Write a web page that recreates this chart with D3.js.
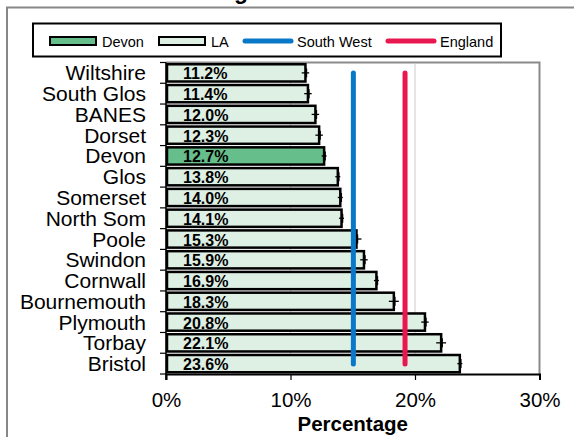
<!DOCTYPE html>
<html><head><meta charset="utf-8">
<script src="https://cdn.jsdelivr.net/npm/d3@7"></script>
<style>body{margin:0;background:#fff}svg{display:block;font-family:Arial,"Liberation Sans",sans-serif}</style>
</head><body>
<svg id="c" width="574" height="437"></svg>
<script>
const categories = ["Wiltshire","South Glos","BANES","Dorset","Devon","Glos","Somerset","North Som","Poole","Swindon","Cornwall","Bournemouth","Plymouth","Torbay","Bristol"];
const values = [11.2,11.4,12.0,12.3,12.7,13.8,14.0,14.1,15.3,15.9,16.9,18.3,20.8,22.1,23.6];
const ciLower = [10.9,11.1,11.7,12.0,12.5,13.6,13.8,13.9,15.0,15.6,16.7,17.9,20.5,21.7,23.4];
const ciUpper = [11.5,11.7,12.3,12.6,12.9,14.0,14.2,14.3,15.7,16.2,17.1,18.7,21.1,22.5,23.8];
const southWest = 15.05;
const england = 19.2;
const xTicks = [0,10,20,30];
const highlight = "Devon";

const svg = d3.select("#c");
const L = 166, R = 539.5, T = 62.5, B = 374;
const x = d3.scaleLinear().domain([0,30]).range([L,R]);
const y = d3.scaleBand().domain(categories).range([T,B]).paddingInner(0.17).paddingOuter(0.085);
const band = d3.scaleBand().domain(categories).range([T,B]);

// outer frame
svg.append("path").attr("d","M7,437 V7.5 H574").attr("fill","none").attr("stroke","#878787").attr("stroke-width",2);
// title (mostly cut off in the reference)
svg.append("text").attr("x",248).attr("y",-1).attr("text-anchor","end").attr("font-weight","bold").attr("font-size",23).text("Smoking");

// plot border top/right
svg.append("path").attr("d",`M${L},${T} H${R} V${B}`).attr("fill","none").attr("stroke","#8a8a8a").attr("stroke-width",2);
// gridlines
[10,20].forEach(t=>svg.append("line").attr("x1",x(t)).attr("x2",x(t)).attr("y1",T+1).attr("y2",B).attr("stroke","#d4d4d4").attr("stroke-width",1.2));

// bars
const g = svg.append("g");
g.selectAll("rect").data(categories).join("rect")
  .attr("x",x(0)+1).attr("y",d=>y(d)).attr("height",y.bandwidth())
  .attr("width",(d,i)=>x(values[i])-x(0)-1)
  .attr("fill",d=>d===highlight?"#66bf8a":"#deefe3")
  .attr("stroke","#000").attr("stroke-width",2.5);
g.selectAll("text.v").data(categories).join("text").attr("class","v")
  .attr("x",x(0)+17).attr("y",d=>y(d)+y.bandwidth()/2+6.5)
  .attr("font-size",16).attr("font-weight","bold").text((d,i)=>values[i].toFixed(1)+"%");
// error bars
categories.forEach((d,i)=>{
  const cy = y(d)+y.bandwidth()/2;
  g.append("line").attr("x1",x(ciLower[i])).attr("x2",x(ciUpper[i])).attr("y1",cy).attr("y2",cy).attr("stroke","#000").attr("stroke-width",1.3);
  g.append("line").attr("x1",x(values[i])+1).attr("x2",x(values[i])+1).attr("y1",cy-4.5).attr("y2",cy+4.5).attr("stroke","#000").attr("stroke-width",1.5);
});

// reference lines
svg.append("line").attr("x1",x(southWest)).attr("x2",x(southWest)).attr("y1",73).attr("y2",364).attr("stroke","#0a78c8").attr("stroke-width",5).attr("stroke-linecap","round");
svg.append("line").attr("x1",x(england)).attr("x2",x(england)).attr("y1",73).attr("y2",364).attr("stroke","#e8174f").attr("stroke-width",5).attr("stroke-linecap","round");

// y axis
const ya = svg.append("g");
ya.append("line").attr("x1",L).attr("x2",L).attr("y1",T).attr("y2",B+6).attr("stroke","#000").attr("stroke-width",1.5);
band.domain().concat([null]).forEach((d,i)=>{
  const yy = d===null? B : band(d);
  ya.append("line").attr("x1",L-6).attr("x2",L).attr("y1",yy).attr("y2",yy).attr("stroke","#000").attr("stroke-width",1.2);
});
ya.selectAll("text").data(categories).join("text").attr("x",146).attr("y",d=>band(d)+band.bandwidth()/2+7.5)
  .attr("text-anchor","end").attr("font-size",21).text(d=>d);

// x axis
const xa = svg.append("g").attr("transform",`translate(0,${B})`).call(d3.axisBottom(x).tickValues(xTicks).tickSize(6).tickPadding(12).tickFormat(d=>d+"%"));
xa.select(".domain").attr("stroke","#000").attr("stroke-width",2);
xa.selectAll(".tick line").attr("stroke","#000").attr("stroke-width",1.2);
xa.selectAll("text").attr("font-size",20.5).attr("font-family","Arial,'Liberation Sans',sans-serif").attr("fill","#000");
svg.append("text").attr("x",(L+R)/2).attr("y",431).attr("text-anchor","middle").attr("font-weight","bold").attr("font-size",20.5).text("Percentage");

// legend
const lg = svg.append("g");
lg.append("rect").attr("x",33).attr("y",23.5).attr("width",468).attr("height",33).attr("fill","#fff").attr("stroke","#000").attr("stroke-width",2);
const ly = 41;
lg.append("rect").attr("x",50).attr("y",ly-4).attr("width",46).attr("height",8).attr("fill","#66bf8a").attr("stroke","#000").attr("stroke-width",2);
lg.append("text").attr("x",102).attr("y",ly+5.5).attr("font-size",14.5).text("Devon");
lg.append("rect").attr("x",159).attr("y",ly-4).attr("width",46).attr("height",8).attr("fill","#deefe3").attr("stroke","#000").attr("stroke-width",2);
lg.append("text").attr("x",211).attr("y",ly+5.5).attr("font-size",14.5).text("LA");
lg.append("line").attr("x1",245).attr("x2",291).attr("y1",ly).attr("y2",ly).attr("stroke","#0a78c8").attr("stroke-width",5).attr("stroke-linecap","round");
lg.append("text").attr("x",297).attr("y",ly+5.5).attr("font-size",14.5).text("South West");
lg.append("line").attr("x1",388).attr("x2",434).attr("y1",ly).attr("y2",ly).attr("stroke","#e8174f").attr("stroke-width",5).attr("stroke-linecap","round");
lg.append("text").attr("x",440).attr("y",ly+5.5).attr("font-size",14.5).text("England");
</script>
</body></html>
